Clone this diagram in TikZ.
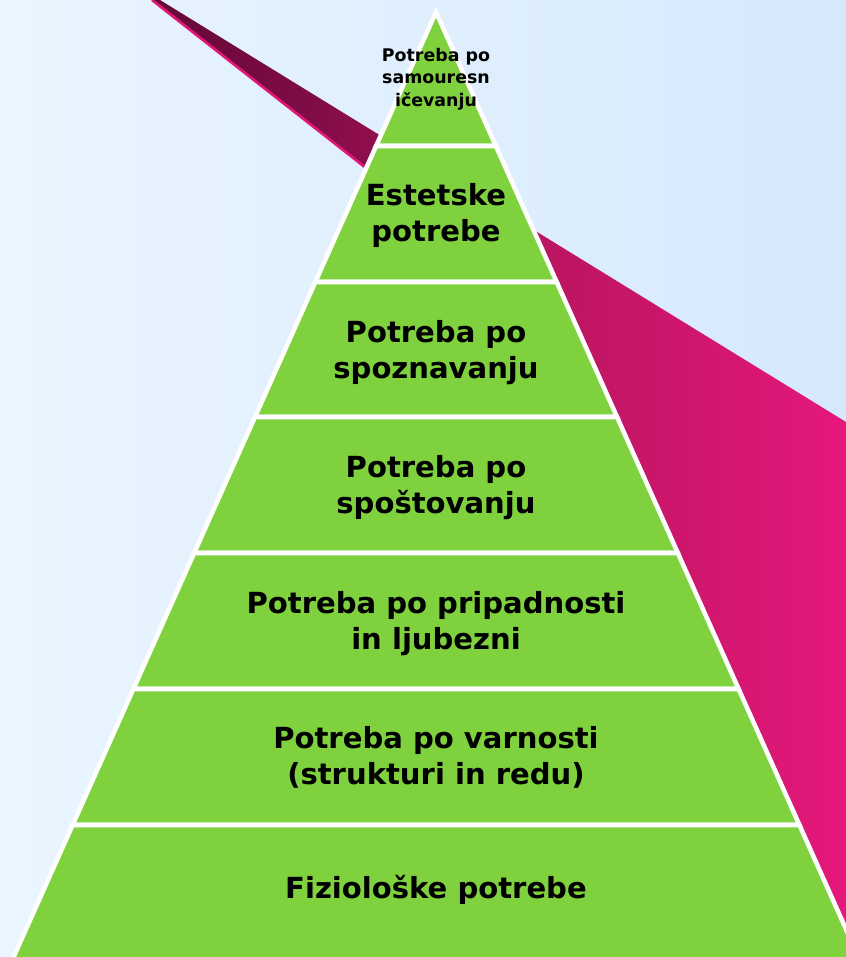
\documentclass[tikz,border=0pt]{standalone}
\usepackage{fontspec}
\setmainfont{DejaVu Sans}
\definecolor{bgL}{RGB}{234,245,255}
\definecolor{bgR}{RGB}{213,233,252}
\definecolor{pyr}{RGB}{127,209,62}
\definecolor{bandA}{RGB}{100,8,52}
\definecolor{bandB}{RGB}{125,12,68}
\definecolor{bandC}{RGB}{186,21,96}
\definecolor{bandD}{RGB}{229,24,123}
\definecolor{bandEdge}{RGB}{226,22,120}
\pgfdeclarehorizontalshading{bandshade}{100bp}{color(0bp)=(bandA); color(25bp)=(bandA); color(35.5bp)=(bandB); color(52.8bp)=(bandC); color(75bp)=(bandD); color(100bp)=(bandD)}
\tikzset{
  tier/.style={fill=pyr, draw=white, line width=3.4pt, line join=miter},
  bigtext/.style={anchor=base, inner sep=0pt, font=\fontsize{21.8}{27}\selectfont\bfseries},
  smalltext/.style={anchor=base, inner sep=0pt, font=\fontsize{13.05}{16.9}\selectfont\bfseries},
}
\newcommand{\hw}[1]{0.447*(#1-12)}
\begin{document}
\begin{tikzpicture}[x=0.75pt,y=-0.75pt]
\useasboundingbox (0,0) rectangle (846,957);
\clip (0,0) rectangle (846,957);
% background
\shade[left color=bgL, right color=bgR] (0,0) rectangle (846,957);
% ribbon
\shade[shading=bandshade] (153,0) -- (160,0) -- (846,422) -- (846,957) -- (700,957) -- (364,166) -- cycle;
\draw[bandEdge, line width=2pt] (152,0) -- (366,168);
% pyramid
\filldraw[tier] (436,12) -- ({436+\hw{146}},146) -- ({436-\hw{146}},146) -- cycle;
\foreach \ya/\yb in {146/282,282/417,417/553,553/689,689/825,825/965}{
  \filldraw[tier] ({436-\hw{\ya}},\ya) -- ({436+\hw{\ya}},\ya) -- ({436+\hw{\yb}},\yb) -- ({436-\hw{\yb}},\yb) -- cycle;
}
% labels
\node[smalltext] (t1) at (436,61) {\begin{tabular}[t]{@{}c@{}}Potreba po\\samouresn\\ičevanju\end{tabular}};
\node[bigtext] (t2) at (436,205) {\begin{tabular}[t]{@{}c@{}}Estetske\\potrebe\end{tabular}};
\node[bigtext] (t3) at (436,342) {\begin{tabular}[t]{@{}c@{}}Potreba po\\spoznavanju\end{tabular}};
\node[bigtext] (t4) at (436,477) {\begin{tabular}[t]{@{}c@{}}Potreba po\\spoštovanju\end{tabular}};
\node[bigtext] (t5) at (436,613) {\begin{tabular}[t]{@{}c@{}}Potreba po pripadnosti\\in ljubezni\end{tabular}};
\node[bigtext] (t6) at (436,748) {\begin{tabular}[t]{@{}c@{}}Potreba po varnosti\\(strukturi in redu)\end{tabular}};
\node[bigtext] (t7) at (436,898) {Fiziološke potrebe};
\end{tikzpicture}
\end{document}
